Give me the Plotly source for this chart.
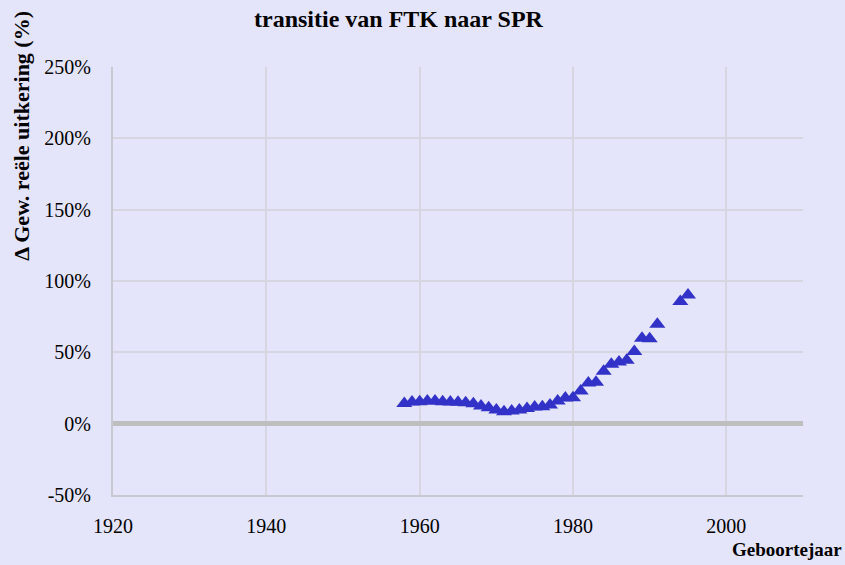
import plotly.graph_objects as go

years = [1958, 1959, 1960, 1961, 1962, 1963, 1964, 1965, 1966, 1967,
         1968, 1969, 1970, 1971, 1972, 1973, 1974, 1975, 1976, 1977,
         1978, 1979, 1980, 1981, 1982, 1983, 1984, 1985, 1986, 1987,
         1988, 1989, 1990, 1991, 1994, 1995]
values = [14.2, 15.2, 15.4, 15.9, 15.9, 15.4, 15.2, 15.0, 14.7, 14.0,
          12.4, 11.2, 9.6, 8.4, 8.9, 9.6, 10.7, 11.7, 11.9, 13.1,
          15.9, 18.0, 18.2, 22.9, 28.5, 29.0, 36.7, 41.6, 43.2, 44.4,
          50.5, 59.8, 59.6, 69.6, 85.6, 90.2]

x_ticks = [1920, 1940, 1960, 1980, 2000]
y_ticks = [-50, 0, 50, 100, 150, 200, 250]
y_tick_labels = ["-50%", "0%", "50%", "100%", "150%", "200%", "250%"]

title_line1 = "Geaggregeerde verandering uitkering bij"
title_line2 = "transitie van FTK naar SPR"

bg = "#e4e4fa"
grid = "#d6d6e0"
serif = "Liberation Serif, Times New Roman, serif"

fig = go.Figure()
fig.add_trace(go.Scatter(
    x=years, y=values, mode="markers",
    marker=dict(symbol="triangle-up", size=14, color="#3232c8"),
    showlegend=False,
))

fig.update_layout(
    width=845, height=565,
    paper_bgcolor=bg, plot_bgcolor=bg,
    margin=dict(l=113, r=42, t=67, b=70),
    font=dict(family=serif, color="black"),
    xaxis=dict(
        range=[1920, 2010], tickvals=x_ticks,
        ticktext=[str(v) for v in x_ticks],
        showgrid=True, gridcolor=grid, gridwidth=2,
        showline=True, linecolor="#c8c8d0", linewidth=2,
        zeroline=False, ticks="", tickfont=dict(size=20, family=serif),
        ticklabelstandoff=12,
    ),
    yaxis=dict(
        range=[-50, 250], tickvals=y_ticks, ticktext=y_tick_labels,
        showgrid=True, gridcolor=grid, gridwidth=2,
        showline=True, linecolor="#c8c8d0", linewidth=2,
        zeroline=True, zerolinecolor="#bebebe", zerolinewidth=5,
        ticks="", tickfont=dict(size=20, family=serif),
        ticklabelstandoff=16,
    ),
    annotations=[
        dict(text="<b>%s</b>" % title_line1,
             xref="paper", yref="paper", x=0.4145, y=1.159,
             xanchor="center", yanchor="bottom", showarrow=False,
             font=dict(size=24, family=serif, color="black")),
        dict(text="<b>%s</b>" % title_line2,
             xref="paper", yref="paper", x=0.4145, y=1.076,
             xanchor="center", yanchor="bottom", showarrow=False,
             font=dict(size=24, family=serif, color="black")),
        dict(text="<b>Δ Gew. reële uitkering (%)</b>",
             xref="paper", yref="paper", x=-0.132, y=0.839,
             xanchor="center", yanchor="middle", textangle=-90, showarrow=False,
             font=dict(size=22, family=serif, color="black")),
        dict(text="<b>Geboortejaar</b>",
             xref="paper", yref="paper", x=1.059, y=-0.128,
             xanchor="right", yanchor="middle", showarrow=False,
             font=dict(size=19, family=serif, color="black")),
    ],
)

fig.write_html("out.html", config={"displayModeBar": False},
               post_script="document.body.style.margin='0';document.body.style.background='%s';" % bg)
